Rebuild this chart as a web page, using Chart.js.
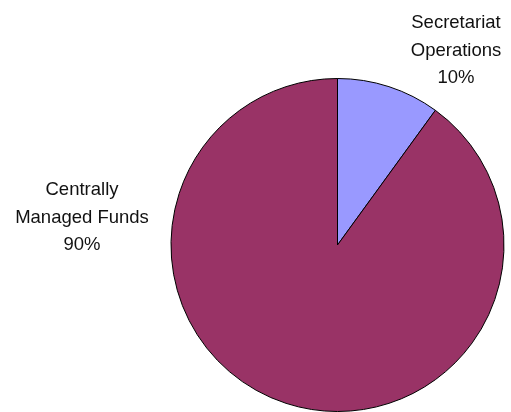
<!DOCTYPE html>
<html>
<head>
<meta charset="utf-8">
<script src="https://cdn.jsdelivr.net/npm/chart.js@4"></script>
<style>
  html, body { margin: 0; padding: 0; background: #fff; }
  #wrap { width: 511px; height: 412px; }
</style>
</head>
<body>
<div id="wrap"><canvas id="pie" width="511" height="412"></canvas></div>
<script>
// chart data
const cats = ['Secretariat Operations', 'Centrally Managed Funds'];
const vals = [10, 90];
const cols = ['#9999FF', '#993366'];
const lbls = [['Secretariat', 'Operations', '10%'], ['Centrally', 'Managed Funds', '90%']];

// where each label block sits (center x, first baseline y)
const lblPos = [[456, 28], [82, 195]];

// draws the excel-style slice labels
const sliceLabels = {
  id: 'sliceLabels',
  afterDraw(c) {
    let ctx = c.ctx;
    ctx.save();
    ctx.font = '18.5px "Liberation Sans", Arial, sans-serif';
    ctx.fillStyle = '#111';
    ctx.textAlign = 'center';
    ctx.textBaseline = 'alphabetic';
    lbls.forEach((lines, i) => {
      let [x, y] = lblPos[i];
      lines.forEach((t, j) => ctx.fillText(t, x, y + j * 27.5));
    });
    ctx.restore();
  }
};

let ch = new Chart(document.getElementById('pie').getContext('2d'), {
  type: 'pie',
  data: {
    labels: cats,
    datasets: [{
      data: vals,
      backgroundColor: cols,
      borderColor: '#000',
      borderWidth: 1
    }]
  },
  options: {
    responsive: false,
    animation: false,
    layout: { padding: { left: 170.5, right: 6.5, top: 78, bottom: 0 } },
    plugins: {
      legend: { display: false },
      tooltip: { enabled: false }
    }
  },
  plugins: [sliceLabels]
});
</script>
</body>
</html>
